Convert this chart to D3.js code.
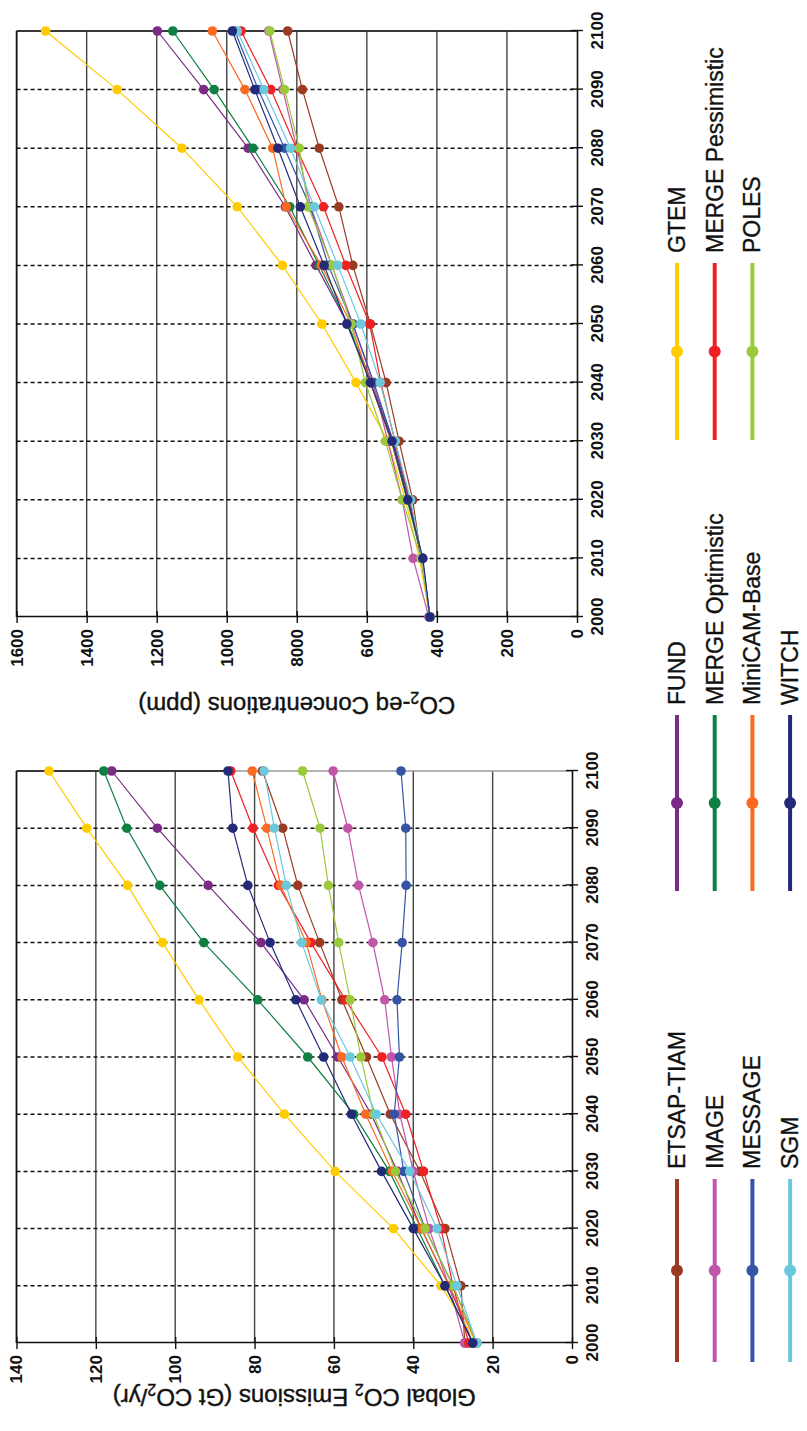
<!DOCTYPE html>
<html>
<head>
<meta charset="utf-8">
<script src="https://cdn.jsdelivr.net/npm/d3@7/dist/d3.min.js"></script>
<style>
  body { margin: 0; background: #fff; }
  svg { display: block; }
  text { font-family: "Liberation Sans", Arial, sans-serif; }
</style>
</head>
<body>
<div id="chart"></div>
<script>
// ---- data ---------------------------------------------------------------
var years = [2000, 2010, 2020, 2030, 2040, 2050, 2060, 2070, 2080, 2090, 2100];
var modelNames = ["ETSAP-TIAM", "FUND", "GTEM", "IMAGE", "MERGE Optimistic", "MERGE Pessimistic",
                  "MESSAGE", "MiniCAM-Base", "POLES", "SGM", "WITCH"];
var modelColors = ["#9b3a22", "#7b2b86", "#ffcc00", "#c056a8", "#0e8043", "#ee2124",
                   "#3554a5", "#fb6a22", "#9bc93b", "#6cc9dc", "#232a78"];

var emissionTicks = [0, 20, 40, 60, 80, 100, 120, 140];
var concTicks = [0, 200, 400, 600, 800, 1000, 1200, 1400, 1600];
var concTickLabels = ["0", "200", "400", "600", "8000", "1000", "1200", "1400", "1600"];

// Global CO2 emissions (Gt CO2/yr)
var emETSAP   = [27, 28, 32, 38.3, 45.8, 51.8, 58, 63.6, 69.1, 72.9, 78];
var emFUND    = [25, 31, 38, 44, 50.6, 59, 67.5, 78.4, 91.7, 104.5, 116];
var emGTEM    = [24, 33, 45, 59.7, 72.5, 84.2, 94, 103.2, 112, 122.3, 131.8];
var emIMAGE   = [27, 31, 36, 40, 43.4, 45.5, 47.2, 50.2, 53.8, 56.5, 60.2];
var emMERGEO  = [25, 32, 39, 46, 55, 66.6, 79.2, 92.8, 103.9, 112.2, 118];
var emMERGEP  = [26, 30, 33, 37.4, 41.9, 47.9, 57.1, 65.8, 74, 80.4, 86];
var emMESSAGE = [24, 30, 37, 42.4, 44.8, 43.5, 44.1, 42.8, 41.8, 41.9, 43.1];
var emMiniCAM = [24, 31, 38, 45.3, 52, 58, 63, 67, 73.4, 76.9, 80.6];
var emPOLES   = [24, 30, 37, 44.5, 50, 53.2, 55.9, 58.8, 61.4, 63.5, 67.9];
var emSGM     = [24, 29, 34, 40.9, 49.3, 55.9, 63.2, 68.1, 72, 75, 77.6];
var emWITCH   = [25, 32, 40, 48, 55.6, 62.6, 69.6, 76.1, 81.7, 85.5, 86.7];

// CO2-eq concentrations (ppm)
var coETSAP   = [420, 445, 469, 508, 545, 590, 640, 680, 736, 784, 826];
var coFUND    = [420, 445, 480, 525, 585, 655, 745, 833, 939, 1066, 1198];
var coGTEM    = [420, 450, 490, 540, 631, 728, 841, 970, 1128, 1313, 1517];
var coIMAGE   = [423, 468, 499, 540, 582, 640, 700, 760, 800, 840, 880];
var coMERGEO  = [420, 442, 485, 530, 590, 654, 736, 820, 925, 1036, 1154];
var coMERGEP  = [420, 442, 478, 520, 560, 592, 660, 724, 801, 874, 959];
var coMESSAGE = [420, 442, 480, 525, 580, 640, 710, 762, 835, 910, 977];
var coMiniCAM = [420, 442, 482, 530, 590, 645, 730, 830, 869, 948, 1041];
var coPOLES   = [420, 445, 499, 547, 604, 645, 699, 768, 793, 835, 877];
var coSGM     = [420, 442, 475, 519, 562, 617, 683, 750, 818, 894, 970];
var coWITCH   = [420, 440, 483, 528, 590, 657, 722, 790, 854, 920, 984];

var emissionSeries = [emETSAP, emFUND, emGTEM, emIMAGE, emMERGEO, emMERGEP,
                      emMESSAGE, emMiniCAM, emPOLES, emSGM, emWITCH];
var concSeries = [coETSAP, coFUND, coGTEM, coIMAGE, coMERGEO, coMERGEP,
                  coMESSAGE, coMiniCAM, coPOLES, coSGM, coWITCH];

// ---- layout -------------------------------------------------------------
var W = 807, H = 1431;
var svg = d3.select("#chart").append("svg")
    .attr("width", W)
    .attr("height", H);

// the whole figure is drawn landscape and turned a quarter turn
var root = svg.append("g")
    .attr("transform", "translate(0," + H + ") rotate(-90)");

function drawPanel(opt) {
    var g = root.append("g");
    var x = d3.scaleLinear().domain([2000, 2100]).range([opt.u0, opt.u1]);
    var y = d3.scaleLinear().domain([0, opt.max]).range([opt.v1, opt.v0]);

    // solid value grid
    g.selectAll(".hgrid").data(opt.ticks.slice(1)).enter().append("line")
        .attr("x1", opt.u0).attr("x2", opt.u1)
        .attr("y1", d => y(d)).attr("y2", d => y(d))
        .attr("stroke", "#444").attr("stroke-width", 1.4);

    // dashed year grid
    g.selectAll(".vgrid").data(years.slice(1, -1)).enter().append("line")
        .attr("x1", d => x(d)).attr("x2", d => x(d))
        .attr("y1", opt.v0).attr("y2", opt.v1)
        .attr("stroke", "#111").attr("stroke-width", 1.5)
        .attr("stroke-dasharray", "4,3");

    // right border: grey, with a dark stretch at the top
    g.append("line")
        .attr("x1", opt.u1).attr("x2", opt.u1)
        .attr("y1", opt.v0).attr("y2", opt.v1)
        .attr("stroke", "#999").attr("stroke-width", 1.4);
    g.append("line")
        .attr("x1", opt.u1).attr("x2", opt.u1)
        .attr("y1", opt.v0).attr("y2", y(opt.darkTo))
        .attr("stroke", "#111").attr("stroke-width", 1.6);

    // year axis
    var xa = g.append("g")
        .attr("transform", "translate(0," + opt.v1 + ")")
        .call(d3.axisBottom(x).tickValues(years).tickFormat(d3.format("d"))
              .tickSize(6).tickSizeOuter(0).tickPadding(8));
    xa.selectAll(".tick line").attr("y1", -6).attr("stroke", "#111").attr("stroke-width", 1.4);
    xa.select(".domain").attr("stroke", "#111").attr("stroke-width", 1.6);
    xa.selectAll("text").attr("font-size", 17).attr("font-weight", "bold")
        .attr("font-family", "Liberation Sans, Arial, sans-serif").attr("fill", "#111");

    // value axis
    var ya = g.append("g")
        .attr("transform", "translate(" + opt.u0 + ",0)")
        .call(d3.axisLeft(y).tickValues(opt.ticks)
              .tickFormat((d, i) => opt.labels[i])
              .tickSize(6).tickSizeOuter(0).tickPadding(6));
    ya.selectAll(".tick line").attr("x1", 6).attr("stroke", "#111").attr("stroke-width", 1.4);
    ya.select(".domain").attr("stroke", "#111").attr("stroke-width", 1.6);
    ya.selectAll("text").attr("font-size", 17).attr("font-weight", "bold")
        .attr("font-family", "Liberation Sans, Arial, sans-serif").attr("fill", "#111");

    // top border
    g.append("line")
        .attr("x1", opt.u0).attr("x2", opt.u1)
        .attr("y1", opt.v0).attr("y2", opt.v0)
        .attr("stroke", "#111").attr("stroke-width", 1.6);

    // axis title with subscripts
    var t = g.append("text")
        .attr("transform", "translate(" + opt.titleU + "," + ((opt.v0 + opt.v1) / 2) + ") rotate(-90)")
        .attr("text-anchor", "middle")
        .attr("dy", "0.35em")
        .attr("font-size", 24)
        .attr("fill", "#111")
        .attr("stroke", "#111")
        .attr("stroke-width", 0.4);
    opt.title.forEach(function(part) {
        if (part.sub) {
            t.append("tspan").attr("font-size", 16).attr("dy", 5).text(part.text);
        } else {
            t.append("tspan").attr("dy", part.after ? -5 : 0).text(part.text);
        }
    });

    // series
    var line = d3.line()
        .x((d, i) => x(years[i]))
        .y(d => y(d));

    opt.series.forEach(function(vals, k) {
        var s = g.append("g");
        s.append("path")
            .datum(vals)
            .attr("fill", "none")
            .attr("stroke", modelColors[k])
            .attr("stroke-width", 1.2)
            .attr("d", line);
        s.selectAll("circle").data(vals).enter().append("circle")
            .attr("cx", (d, i) => x(years[i]))
            .attr("cy", d => y(d))
            .attr("r", 4.8)
            .attr("fill", modelColors[k]);
    });
}

drawPanel({
    u0: 88, u1: 660, v0: 16.5, v1: 572,
    max: 140, ticks: emissionTicks, labels: emissionTicks.map(String),
    series: emissionSeries, titleU: 42, darkTo: 87,
    title: [{text: "Global CO"}, {text: "2", sub: true}, {text: " Emissions (Gt CO", after: true},
            {text: "2", sub: true}, {text: "/yr)", after: true}]
});

drawPanel({
    u0: 814, u1: 1400, v0: 16.6, v1: 577,
    max: 1600, ticks: concTicks, labels: concTickLabels,
    series: concSeries, titleU: 734, darkTo: 0,
    title: [{text: "CO"}, {text: "2", sub: true}, {text: "-eq Concentrations (ppm)", after: true}]
});

// ---- legend ---------------------------------------------------------------
var colStart = [69, 540, 991];
var colEnd = [252, 716, 1168];
var legend = root.append("g").attr("class", "legend");
modelNames.forEach(function(name, i) {
    var col = i % 3, row = Math.floor(i / 3);
    var v = 677 + row * 37.7;
    var item = legend.append("g");
    item.append("line")
        .attr("x1", colStart[col]).attr("x2", colEnd[col])
        .attr("y1", v).attr("y2", v)
        .attr("stroke", modelColors[i]).attr("stroke-width", 4);
    item.append("circle")
        .attr("cx", (colStart[col] + colEnd[col]) / 2).attr("cy", v)
        .attr("r", 6).attr("fill", modelColors[i]);
    item.append("text")
        .attr("x", colEnd[col] + 10).attr("y", v)
        .attr("dy", "0.35em")
        .attr("font-size", 23)
        .attr("fill", "#111")
        .attr("stroke", "#111")
        .attr("stroke-width", 0.35)
        .text(name);
});
</script>
</body>
</html>
